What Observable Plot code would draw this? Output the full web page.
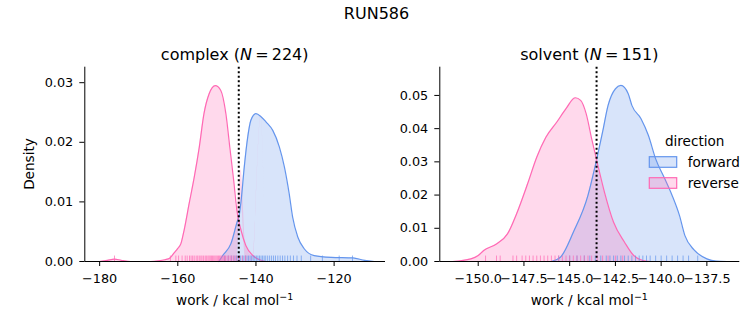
<!DOCTYPE html>
<html>
<head>
<meta charset="utf-8">
<script src="https://cdn.jsdelivr.net/npm/d3@7"></script>
<script src="https://cdn.jsdelivr.net/npm/@observablehq/plot@0.6"></script>
<style>
  html, body { margin: 0; padding: 0; background: #fff; }
  #wrap { position: relative; width: 753px; height: 325px; font-family: "DejaVu Sans", sans-serif; }
  #wrap > svg, #wrap > figure { position: absolute; top: 0; margin: 0; }
  #wrap svg, #wrap svg text { font-family: "DejaVu Sans", sans-serif !important; }
</style>
</head>
<body>
<div id="wrap"></div>
<script>
// ---------- data ----------
const suptitle = "RUN586";
const directions = ["forward", "reverse"];
const colors = ["#6495ED", "#FF69B4"];

// complex panel (N = 224)
const complexN = 224;
const complexXTicks = [-180, -160, -140, -120];
const complexYTicks = [0, 0.01, 0.02, 0.03];
const complexMean = -144.4;
const complexFwdX = [-149.5, -148.5, -146.4, -144.7, -144.3, -143.8, -143.0, -142.1, -141.3, -140.0, -138.7, -137.4, -135.7, -134.0, -132.7, -131.5, -130.6, -129.3, -127.6, -125.1, -120.8, -115.2, -112.2, -109.7];
const complexFwdY = [0, 0.001, 0.003, 0.0069, 0.0077, 0.0102, 0.0158, 0.0209, 0.0237, 0.0248, 0.0243, 0.0234, 0.022, 0.0192, 0.0158, 0.0114, 0.0074, 0.0041, 0.0021, 0.001, 0.0007, 0.0006, 0.0002, 0];
const complexRevX = [-180, -178, -176.2, -174.5, -172, -167, -165, -163.3, -162, -161, -160, -159.2, -158.4, -157.1, -155.8, -154.5, -153.3, -152.0, -150.4, -149.0, -147.7, -146.7, -145.7, -144.9, -143.8, -142.6, -140.8, -138.7, -137.5];
const complexRevY = [0, 0.0002, 0.0004, 0.0002, 0, 0, 0.0001, 0.0003, 0.0006, 0.0014, 0.0022, 0.003, 0.0052, 0.0097, 0.0141, 0.0192, 0.0248, 0.0281, 0.0295, 0.0287, 0.0248, 0.0192, 0.0136, 0.0086, 0.0052, 0.0027, 0.001, 0.0002, 0];
const complexFwdRug = [-148.0, -147.1, -146.3, -145.6, -145.0, -144.5, -144.0, -143.5, -143.1, -142.7, -142.3, -141.9, -141.5, -141.1, -140.7, -140.3, -139.9, -139.5, -139.1, -138.7, -138.3, -137.9, -137.5, -137.0, -136.5, -136.0, -135.5, -135.0, -134.4, -133.8, -133.2, -132.6, -131.9, -131.2, -130.4, -129.5, -128.4, -126.0, -123.0, -118.7, -115.3];
const complexRevRug = [-176.2, -161.9, -160.5, -159.8, -158.9, -158.1, -157.6, -157.0, -156.6, -156.2, -155.8, -155.3, -154.9, -154.5, -154.1, -153.8, -153.4, -153.0, -152.7, -152.3, -152.0, -151.7, -151.4, -151.1, -150.8, -150.5, -150.2, -149.9, -149.6, -149.3, -149.0, -148.7, -148.4, -148.1, -147.8, -147.4, -147.0, -146.6, -146.2, -145.8, -145.3, -144.8, -144.2, -143.5, -142.7];

// solvent panel (N = 151)
const solventN = 151;
const solventXTicks = [-150, -147.5, -145, -142.5, -140, -137.5];
const solventYTicks = [0, 0.01, 0.02, 0.03, 0.04, 0.05];
const solventMean = -143.53;
const solventFwdX = [-146.0, -145.5, -144.8, -144.0, -143.6, -143.2, -142.9, -142.5, -142.2, -141.8, -141.6, -141.1, -140.7, -140.3, -139.8, -139.4, -139.0, -138.7, -138.2, -137.5, -137.0, -136.4];
const solventFwdY = [0, 0.0013, 0.0088, 0.0199, 0.0289, 0.039, 0.047, 0.052, 0.053, 0.0505, 0.047, 0.043, 0.038, 0.0309, 0.0249, 0.0199, 0.0139, 0.0078, 0.0035, 0.0008, 0.0001, 0];
const solventRevX = [-151.4, -150.4, -150.0, -149.7, -149.0, -148.4, -147.9, -147.3, -146.8, -146.3, -145.7, -145.2, -144.7, -144.4, -144.1, -143.8, -143.5, -143.1, -142.6, -142.0, -141.5, -141.0, -140.6];
const solventRevY = [0, 0.0008, 0.0018, 0.0033, 0.0053, 0.0083, 0.0144, 0.0234, 0.0314, 0.0374, 0.042, 0.046, 0.0493, 0.0485, 0.0445, 0.037, 0.0299, 0.0209, 0.0118, 0.0058, 0.0018, 0.0003, 0];
const solventFwdRug = [-145.6, -145.0, -144.6, -144.2, -143.9, -143.6, -143.3, -143.0, -142.8, -142.6, -142.4, -142.2, -142.0, -141.8, -141.6, -141.4, -141.2, -141.0, -140.8, -140.6, -140.3, -140.0, -139.7, -139.4, -139.1, -138.8, -138.5, -138.0];
const solventRevRug = [-149.6, -149.0, -148.8, -148.1, -147.9, -147.6, -147.4, -147.2, -147.0, -146.8, -146.6, -146.4, -146.2, -146.0, -145.8, -145.6, -145.4, -145.2, -145.0, -144.8, -144.6, -144.4, -144.2, -144.0, -143.8, -143.5, -143.2, -142.9, -142.5, -142.1];

// ---------- build ----------
const wrap = document.getElementById("wrap");
const toPts = (xs, ys, dir) => xs.map((x, i) => ({x, y: ys[i], dir}));

function panel(opts) {
  const curves = [
    ...toPts(opts.fwdX, opts.fwdY, "forward"),
    ...toPts(opts.revX, opts.revY, "reverse")
  ];
  const rugH = opts.yDomain[1] * 0.028;
  const rugs = [
    ...opts.fwdRug.map(x => ({x, dir: "forward"})),
    ...opts.revRug.map(x => ({x, dir: "reverse"}))
  ];
  const color = {domain: directions, range: colors};
  const chart = Plot.plot({
    width: opts.width, height: 325,
    marginLeft: opts.ml, marginRight: opts.mr, marginTop: 66.7, marginBottom: 64,
    x: {domain: opts.xDomain},
    y: {domain: opts.yDomain},
    color,
    style: {fontFamily: "DejaVu Sans", fontSize: "12.8px", color: "black", background: "white", overflow: "visible"},
    marks: [
      Plot.areaY(curves, {x: "x", y: "y", z: "dir", fill: "dir", fillOpacity: 0.25, curve: "monotone-x"}),
      Plot.lineY(curves, {x: "x", y: "y", z: "dir", stroke: "dir", strokeWidth: 1.2, curve: "monotone-x"}),
      Plot.ruleX(rugs, {x: "x", y1: 0, y2: rugH, stroke: "dir", strokeOpacity: 0.7, strokeWidth: 1}),
      Plot.ruleX([opts.mean], {stroke: "black", strokeWidth: 2, strokeDasharray: "2,2.5"}),
      Plot.ruleY([0], {stroke: "black", strokeWidth: 1}),
      Plot.ruleX([opts.xDomain[0]], {stroke: "black", strokeWidth: 1}),
      Plot.axisX({ticks: opts.xTicks, tickFormat: opts.xFmt, tickSize: 5, tickPadding: 7.5, label: null, fontSize: 12.8}),
      Plot.axisY({ticks: opts.yTicks, tickFormat: d3.format(".2f"), tickSize: 5, tickPadding: 6.6, label: null, fontSize: 12.8})
    ]
  });
  chart.style.left = opts.left + "px";
  wrap.appendChild(chart);
}

panel({left: 0, width: 390, ml: 84.3, mr: 5, xDomain: [-183.8, -106.85], yDomain: [0, 0.0326],
  xTicks: complexXTicks, yTicks: complexYTicks, xFmt: d3.format("d"), mean: complexMean,
  fwdX: complexFwdX, fwdY: complexFwdY, revX: complexRevX, revY: complexRevY,
  fwdRug: complexFwdRug, revRug: complexRevRug});
panel({left: 390, width: 363, ml: 49.3, mr: 13.7, xDomain: [-152.1, -135.7], yDomain: [0, 0.0585],
  xTicks: solventXTicks, yTicks: solventYTicks, xFmt: d3.format(".1f"), mean: solventMean,
  fwdX: solventFwdX, fwdY: solventFwdY, revX: solventRevX, revY: solventRevY,
  fwdRug: solventFwdRug, revRug: solventRevRug});

// ---------- text overlay: titles, labels, legend ----------
const ov = d3.select(wrap).append("svg")
  .attr("width", 753).attr("height", 325)
  .style("left", "0px").style("pointer-events", "none")
  .style("fill", "black");

ov.append("text").attr("x", 376.5).attr("y", 19).attr("text-anchor", "middle")
  .style("font-size", "16px").text(suptitle);

function title(x, name, n) {
  const t = ov.append("text").attr("x", x).attr("y", 59.5).attr("text-anchor", "middle").style("font-size", "16px");
  t.append("tspan").text(name + " (");
  t.append("tspan").style("font-style", "italic").text("N");
  t.append("tspan").text("\u2009=\u2009" + n + ")");
}
title(234.7, "complex", complexN);
title(589.3, "solvent", solventN);

function xlabel(x) {
  const t = ov.append("text").attr("x", x).attr("y", 305).attr("text-anchor", "middle").style("font-size", "13.6px");
  t.append("tspan").text("work / kcal mol");
  t.append("tspan").attr("dy", -5.5).style("font-size", "9.5px").text("\u22121");
}
xlabel(234.7);
xlabel(589.3);

ov.append("text").attr("transform", "translate(34,164) rotate(-90)").attr("text-anchor", "middle")
  .style("font-size", "13.6px").text("Density");

// legend
ov.append("text").attr("x", 694.7).attr("y", 146).attr("text-anchor", "middle").style("font-size", "13.6px").text("direction");
directions.forEach((d, i) => {
  const y = 156.7 + i * 21;
  ov.append("rect").attr("x", 649.3).attr("y", y).attr("width", 27.4).attr("height", 10.6)
    .attr("fill", colors[i]).attr("fill-opacity", 0.25).attr("stroke", colors[i]).attr("stroke-width", 1.2);
  ov.append("text").attr("x", 687.7).attr("y", y + 10).style("font-size", "13.6px").text(d);
});
</script>
</body>
</html>
